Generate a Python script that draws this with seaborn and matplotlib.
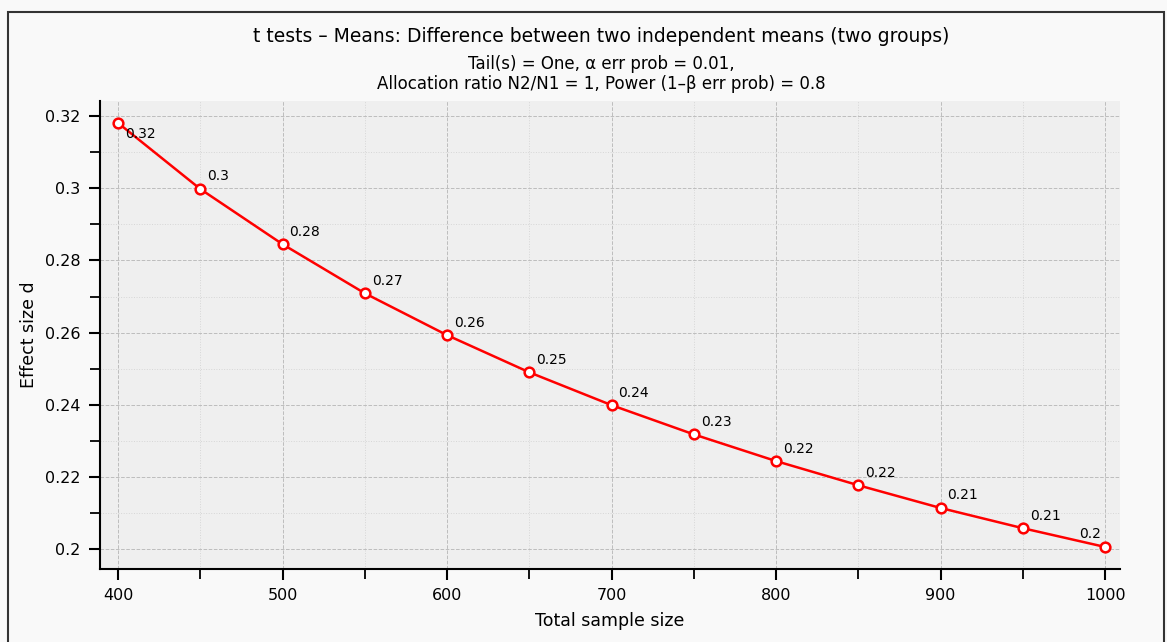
import pandas as pd
import matplotlib.pyplot as plt
import seaborn as sns
from matplotlib.patches import Rectangle
from matplotlib.ticker import MultipleLocator

# data
sample_size = [400, 450, 500, 550, 600, 650, 700, 750, 800, 850, 900, 950, 1000]
effect_size = [0.3181, 0.2998, 0.2845, 0.2709, 0.2593, 0.2490, 0.2399,
               0.2318, 0.2244, 0.2177, 0.2114, 0.2058, 0.2006]
point_labels = ["0.32", "0.3", "0.28", "0.27", "0.26", "0.25", "0.24",
                "0.23", "0.22", "0.22", "0.21", "0.21", "0.2"]

title = "t tests \u2013 Means: Difference between two independent means (two groups)"
subtitle = ("Tail(s) = One, \u03b1 err prob = 0.01,\n"
            "Allocation ratio N2/N1 = 1, Power (1\u2013\u03b2 err prob) = 0.8")

df = pd.DataFrame({"n": sample_size, "d": effect_size})

sns.set_style("ticks")
plt.rcParams["font.family"] = ["DejaVu Sans"]
plt.rcParams["text.color"] = "black"
plt.rcParams["axes.labelcolor"] = "black"
plt.rcParams["xtick.color"] = "black"
plt.rcParams["ytick.color"] = "black"

fig = plt.figure(figsize=(11.67, 6.42), dpi=100, facecolor="#f9f9f9")
ax = fig.add_axes([100 / 1167, 1 - 569 / 642, 1020 / 1167, 468 / 642])
ax.set_facecolor("#efefef")

sns.lineplot(data=df, x="n", y="d", ax=ax, color="#ff0000", linewidth=1.8,
             marker="o", markersize=7, markerfacecolor="white",
             markeredgecolor="#ff0000", markeredgewidth=1.8, zorder=3)

for i, (x, y, lab) in enumerate(zip(sample_size, effect_size, point_labels)):
    if i == 0:
        off, ha, va = (5, -3), "left", "top"
    elif i == len(sample_size) - 1:
        off, ha, va = (-3, 4), "right", "bottom"
    else:
        off, ha, va = (5, 4), "left", "bottom"
    ax.annotate(lab, (x, y), xytext=off, textcoords="offset points",
                ha=ha, va=va, fontsize=10, color="black")

ax.set_xlim(389, 1009)
ax.set_ylim(0.1945, 0.3242)
ax.xaxis.set_major_locator(MultipleLocator(100))
ax.xaxis.set_minor_locator(MultipleLocator(50))
ax.yaxis.set_major_locator(MultipleLocator(0.02))
ax.yaxis.set_minor_locator(MultipleLocator(0.01))
ax.yaxis.set_major_formatter(plt.FuncFormatter(lambda v, p: f"{v:g}"))

ax.grid(which="major", color="#bdbdbd", linestyle="--", linewidth=0.7)
ax.grid(which="minor", color="#d6d6d6", linestyle=":", linewidth=0.7)
ax.set_axisbelow(True)

sns.despine(ax=ax)
for s in ["left", "bottom"]:
    ax.spines[s].set_linewidth(1.5)
    ax.spines[s].set_color("black")
ax.tick_params(which="major", length=8, width=1.5, labelsize=11.5, pad=6)
ax.tick_params(which="minor", length=7, width=1.3)

ax.set_xlabel("Total sample size", fontsize=12.5, labelpad=6)
ax.set_ylabel("Effect size d", fontsize=12.5, labelpad=5)

fig.text(601 / 1167, 1 - 37 / 642, title, ha="center", va="center", fontsize=13.5)
fig.text(601 / 1167, 1 - 74 / 642, subtitle, ha="center", va="center",
         fontsize=12, linespacing=1.15)

fig.patches.append(Rectangle((8 / 1167, -0.05), 1156 / 1167, 1 - 12 / 642 + 0.05,
                             transform=fig.transFigure, fill=False,
                             edgecolor="#333333", linewidth=1.5))

fig.savefig("out.png", dpi=100, facecolor=fig.get_facecolor())
